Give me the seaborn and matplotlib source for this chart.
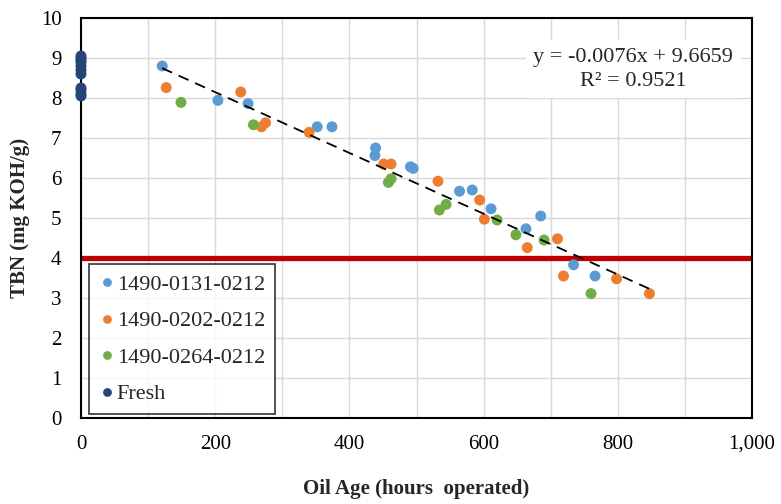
import numpy as np
import pandas as pd
import matplotlib
matplotlib.use("Agg")
import matplotlib.pyplot as plt
from matplotlib.ticker import FuncFormatter, MultipleLocator
import seaborn as sns

# Oil age (hours) and TBN (mg KOH/g) per engine sample series
hours_0131 = [121, 204, 249, 352, 374, 438, 439, 491, 495, 564, 583, 611, 663, 685, 734, 766]
tbn_0131 = [8.80, 7.94, 7.86, 7.28, 7.28, 6.56, 6.75, 6.28, 6.24, 5.67, 5.70, 5.23, 4.73, 5.05, 3.83, 3.55]

hours_0202 = [127, 238, 269, 275, 340, 451, 462, 532, 594, 601, 665, 710, 719, 798, 847]
tbn_0202 = [8.26, 8.15, 7.28, 7.38, 7.14, 6.35, 6.35, 5.92, 5.45, 4.97, 4.26, 4.48, 3.55, 3.48, 3.11]

hours_0264 = [149, 257, 458, 462, 534, 544, 620, 648, 690, 760]
tbn_0264 = [7.89, 7.33, 5.89, 5.98, 5.20, 5.34, 4.95, 4.58, 4.45, 3.11]

hours_fresh = [0] * 11
tbn_fresh = [9.05, 9.00, 8.95, 8.90, 8.80, 8.70, 8.60, 8.25, 8.20, 8.10, 8.05]

series_names = ["1490-0131-0212", "1490-0202-0212", "1490-0264-0212", "Fresh"]
series_colors = ["#5B9BD5", "#ED7D31", "#70AD47", "#264478"]

# Linear trend of aged samples and condemning limit
trend_slope = -0.0076
trend_intercept = 9.6659
trend_r2 = 0.9521
tbn_limit = 4.0

x_ticks = [0, 200, 400, 600, 800, 1000]
y_ticks = list(range(0, 11))

frames = []
for name, hx, ty in zip(series_names,
                        [hours_0131, hours_0202, hours_0264, hours_fresh],
                        [tbn_0131, tbn_0202, tbn_0264, tbn_fresh]):
    frames.append(pd.DataFrame({"hours": hx, "tbn": ty, "series": name}))
df = pd.concat(frames, ignore_index=True)

sns.set_theme(style="white")
plt.rcParams["font.family"] = ["Liberation Serif", "DejaVu Serif"]

fig = plt.figure(figsize=(7.81, 5.04), dpi=100)
ax = fig.add_axes([0.1037, 0.1706, 0.8593, 0.7937])

ax.set_axisbelow(True)
ax.grid(True, which="major", color="#D9D9D9", linewidth=1.0)

palette = dict(zip(series_names, series_colors))
sns.scatterplot(data=df, x="hours", y="tbn", hue="series", hue_order=series_names,
                palette=palette, s=62, edgecolor="none", linewidth=0, ax=ax,
                zorder=3, clip_on=False)

# Trend line over the aged-sample range
aged_hours = np.array(hours_0131 + hours_0202 + hours_0264)
tx = np.array([aged_hours.min(), aged_hours.max()])
ax.plot(tx, trend_slope * tx + trend_intercept, color="black", linewidth=1.3,
        linestyle=(0, (6, 4)), zorder=4)

# TBN condemning limit
ax.axhline(tbn_limit, color="#C00000", linewidth=3.8, zorder=2)

ax.set_xlim(0, 1000)
ax.set_ylim(0, 10)
ax.xaxis.set_minor_locator(MultipleLocator(100))
ax.grid(True, which="minor", axis="x", color="#D9D9D9", linewidth=1.0)
ax.set_xticks(x_ticks)
ax.set_yticks(y_ticks)
ax.xaxis.set_major_formatter(FuncFormatter(lambda v, p: f"{int(v):,}"))
ax.tick_params(axis="both", which="both", length=0, labelsize=15, colors="black")
ax.tick_params(axis="x", pad=12)
ax.tick_params(axis="y", pad=14)

for sp in ax.spines.values():
    sp.set_visible(True)
    sp.set_color("black")
    sp.set_linewidth(1.5)

ax.set_xlabel("Oil Age (hours  operated)", fontsize=15, fontweight="bold", labelpad=18)
ax.set_ylabel("TBN (mg KOH/g)", fontsize=15, fontweight="bold", labelpad=8)

eq = f"y = {trend_slope}x + {trend_intercept}\nR² = {trend_r2}"
ax.text(0.823, 0.872, eq, transform=ax.transAxes, ha="center", va="center",
        fontsize=16, linespacing=1.35, zorder=5,
        bbox=dict(boxstyle="square,pad=0.35", facecolor="white", edgecolor="none"))

old = ax.get_legend()
handles = old.legend_handles
labels = [t.get_text() for t in old.get_texts()]
old.remove()
leg = ax.legend(handles, labels, loc="lower left", bbox_to_anchor=(0.012, 0.009),
                borderaxespad=0, frameon=True, fancybox=False, edgecolor="black",
                fontsize=16, markerscale=0.8, handletextpad=0.1, handlelength=0.7,
                labelspacing=0.72, borderpad=0.45)
leg.get_frame().set_linewidth(1.2)
leg.set_zorder(6)

fig.savefig("out.png", dpi=100)
